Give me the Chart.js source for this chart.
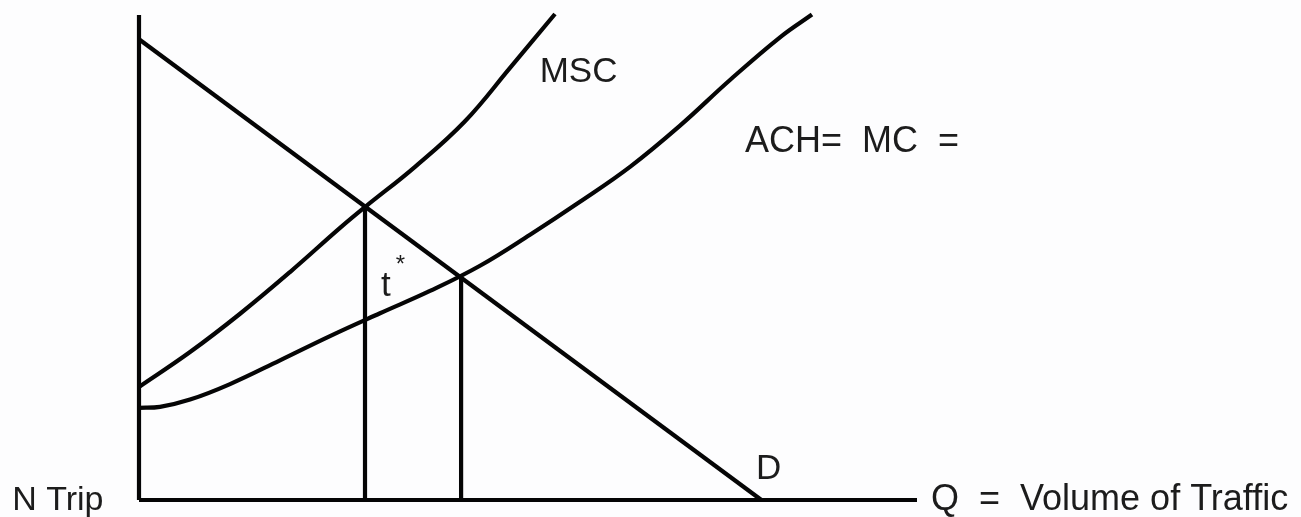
<!DOCTYPE html>
<html>
<head>
<meta charset="utf-8">
<script src="https://cdn.jsdelivr.net/npm/chart.js@4.4.1/dist/chart.umd.min.js"></script>
<style>
  html, body { margin: 0; padding: 0; background: #fdfdfe; }
  #wrap { width: 1301px; height: 517px; position: relative; }
</style>
</head>
<body>
<div id="wrap"><canvas id="c" width="1301" height="517"></canvas></div>
<script>
// Data (abstract units: Q on x from 0 to 100, price/cost on y from 0 to 100)
const demandQ = [0, 80];
const demandP = [95, 0];

const mscQ = [0, 6.56, 12.99, 19.41, 25.84, 29.05, 35.48, 41.9, 47.69, 53.47];
const mscP = [23.3, 30.5, 38.4, 47.0, 56.1, 60.4, 68.7, 78.1, 89.1, 100.2];

const achQ = [0, 2.7, 6.56, 11.7, 18.12, 24.55, 30.98, 37.4, 43.83, 50.26, 56.68, 63.11, 69.54, 75.96, 82.39, 86.5];
const achP = [19.0, 19.2, 20.7, 23.9, 28.8, 33.8, 38.5, 43.1, 48.3, 54.7, 61.5, 68.7, 77.2, 86.6, 95.4, 100.1];

const optimumQ = [29.05, 29.05];
const optimumP = [0, 60.4];
const equilibriumQ = [41.4, 41.4];
const equilibriumP = [0, 46.0];

const yAxisQ = [0, 0];
const yAxisP = [0, 100];
const xAxisQ = [0, 100];
const xAxisP = [0, 0];

const labelTexts = ["MSC", "ACH=  MC  =", "t", "*", "D", "N Trip", "Q  =  Volume of Traffic"];

const toPts = (xs, ys) => xs.map((x, i) => ({ x: x, y: ys[i] }));

const ink = '#050505';
function lineDs(pts, opts) {
  return Object.assign({
    data: pts,
    borderColor: ink,
    borderWidth: 4.2,
    pointRadius: 0,
    fill: false,
    clip: false,
    tension: 0,
    borderCapStyle: 'butt',
    borderJoinStyle: 'round'
  }, opts || {});
}

// label placement (layout only)
const labelLayout = [
  { x: 51.5, y: 86.2, size: 35 },
  { x: 77.9, y: 71.8, size: 36 },
  { x: 31.1, y: 42.1, size: 35 },
  { x: 33.0, y: 47.0, size: 24 },
  { x: 79.3, y: 4.3, size: 35 },
  { x: -16.3, y: -2.1, size: 34 },
  { x: 101.8, y: -2.1, size: 36 }
];

const labelPlugin = {
  id: 'labels',
  afterDatasetsDraw(chart) {
    const { ctx, scales: { x, y } } = chart;
    ctx.save();
    ctx.fillStyle = '#1c1c1c';
    ctx.textAlign = 'left';
    ctx.textBaseline = 'alphabetic';
    labelTexts.forEach((t, i) => {
      const L = labelLayout[i];
      ctx.font = L.size + 'px "Liberation Sans", Arial, sans-serif';
      ctx.fillText(t, x.getPixelForValue(L.x), y.getPixelForValue(L.y));
    });
    ctx.restore();
  }
};

new Chart(document.getElementById('c'), {
  type: 'line',
  data: {
    datasets: [
      lineDs(toPts(yAxisQ, yAxisP)),
      lineDs(toPts(xAxisQ, xAxisP)),
      lineDs(toPts(demandQ, demandP)),
      lineDs(toPts(mscQ, mscP), { tension: 0.4 }),
      lineDs(toPts(achQ, achP), { tension: 0.4 }),
      lineDs(toPts(optimumQ, optimumP)),
      lineDs(toPts(equilibriumQ, equilibriumP))
    ]
  },
  options: {
    responsive: false,
    animation: false,
    events: [],
    layout: { padding: { left: 139, right: 384, top: 15, bottom: 17 } },
    scales: {
      x: { type: 'linear', min: 0, max: 100, display: false },
      y: { type: 'linear', min: 0, max: 100, display: false }
    },
    plugins: { legend: { display: false }, tooltip: { enabled: false } }
  },
  plugins: [labelPlugin]
});
</script>
</body>
</html>
